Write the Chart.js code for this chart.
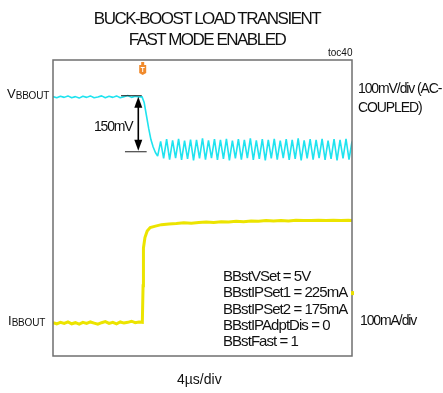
<!DOCTYPE html>
<html>
<head>
<meta charset="utf-8">
<script src="https://cdn.jsdelivr.net/npm/chart.js@4/dist/chart.umd.min.js"></script>
<style>
  body { margin: 0; background: #fff; }
  #wrap { position: relative; width: 443px; height: 393px; overflow: hidden; background: #fff;
          font-family: "Liberation Sans", Arial, sans-serif; color: #111; }
  #wrap canvas { position: absolute; left: 0; top: 0; }
  .t { position: absolute; line-height: 1; white-space: nowrap; }
  .title { left: 0; width: 414px; text-align: center; font-size: 17px; letter-spacing: -1.5px; }
  .lbl { font-size: 14px; letter-spacing: -1.1px; }
  .par { left: 223px; font-size: 15px; letter-spacing: -0.95px; }
  .sig { font-size: 13px; }
  .sig span { font-size: 10px; letter-spacing: -0.2px; position: relative; top: 1px; }
</style>
</head>
<body>
<div id="wrap">
  <canvas id="scope" width="443" height="393"></canvas>
  <div class="t title" style="top:10.4px">BUCK-BOOST LOAD TRANSIENT</div>
  <div class="t title" style="top:30.9px">FAST MODE ENABLED</div>
  <div class="t" style="top:47.7px;left:328px;font-size:10px">toc40</div>
  <div class="t sig" style="top:86.7px;left:7px">V<span>BBOUT</span></div>
  <div class="t sig" style="top:314.2px;left:8px">I<span>BBOUT</span></div>
  <div class="t lbl" style="top:81px;left:358px">100mV/div (AC-</div>
  <div class="t lbl" style="top:100px;left:358px">COUPLED)</div>
  <div class="t lbl" style="top:313.4px;left:360px">100mA/div</div>
  <div class="t lbl" style="top:118.5px;left:94px;letter-spacing:-1.2px">150mV</div>
  <div class="t" style="top:372px;left:177px;font-size:14px">4µs/div</div>
  <div class="t par" style="top:267.5px">BBstVSet = 5V</div>
  <div class="t par" style="top:284px">BBstIPSet1 = 225mA</div>
  <div class="t par" style="top:300.7px">BBstIPSet2 = 175mA</div>
  <div class="t par" style="top:317px">BBstIPAdptDis = 0</div>
  <div class="t par" style="top:333px">BBstFast = 1</div>
</div>
<script>
// time in µs (4µs/div, 10 div), amplitude in screen divisions (8 div)
var cyanTime = [0, 0.5, 1, 1.5, 2, 2.5, 3, 3.5, 4, 4.5, 5, 5.5, 6, 6.5, 7, 7.5, 8, 8.5, 9, 9.5,
  10, 10.5, 11, 11.5, 11.9, 12.2, 12.5, 12.8, 13.1, 13.4, 13.7,
  14.0, 14.4, 14.8, 15.2, 15.6, 16.0, 16.4, 16.8, 17.2, 17.6, 18.0, 18.4, 18.8, 19.2, 19.6,
  20.0, 20.4, 20.8, 21.2, 21.6, 22.0, 22.4, 22.8, 23.2, 23.6, 24.0, 24.4, 24.8, 25.2, 25.6,
  26.0, 26.4, 26.8, 27.2, 27.6, 28.0, 28.4, 28.8, 29.2, 29.6, 30.0, 30.4, 30.8, 31.2, 31.6,
  32.0, 32.4, 32.8, 33.2, 33.6, 34.0, 34.4, 34.8, 35.2, 35.6, 36.0, 36.4, 36.8, 37.2, 37.6,
  38.0, 38.4, 38.8, 39.2, 39.6, 40.0];
var cyanDiv = [7.01, 6.98, 7.02, 6.99, 7.03, 6.98, 7.01, 6.97, 7.02, 6.99, 7.03, 6.98, 7.00, 7.03, 6.98, 7.02, 6.99, 7.03, 6.98, 7.01,
  7.04, 6.99, 7.02, 7.00, 7.01, 6.85, 6.50, 6.15, 5.85, 5.65, 5.50,
  5.40, 5.80, 5.34, 5.86, 5.31, 5.83, 5.35, 5.87, 5.30, 5.82, 5.33, 5.85, 5.29, 5.84, 5.34,
  5.88, 5.31, 5.83, 5.35, 5.86, 5.30, 5.84, 5.33, 5.87, 5.29, 5.82, 5.34, 5.86, 5.31, 5.84,
  5.35, 5.88, 5.30, 5.83, 5.33, 5.86, 5.29, 5.84, 5.34, 5.87, 5.31, 5.82, 5.35, 5.86, 5.30,
  5.84, 5.33, 5.88, 5.29, 5.83, 5.34, 5.86, 5.31, 5.84, 5.35, 5.87, 5.30, 5.82, 5.33, 5.86,
  5.29, 5.84, 5.34, 5.87, 5.31, 5.80];

var yellowTime = [0, 0.5, 1, 1.5, 2, 2.5, 3, 3.5, 4, 4.5, 5, 5.5, 6, 6.5, 7, 7.5, 8, 8.5, 9, 9.5,
  10, 10.5, 11, 11.5, 11.95, 12.05, 12.1, 12.3, 12.6, 13.0, 13.7, 14.5, 15.5, 16.5, 17.5, 18.5, 19.5,
  20.5, 21.5, 22.5, 23.5, 24.5, 25.5, 26.5, 27.5, 28.5, 29.5, 30.5, 31.5, 32.5, 33.5, 34.5,
  35.5, 36.5, 37.5, 38.5, 39.5, 40];
var yellowDiv = [0.90, 0.87, 0.91, 0.88, 0.92, 0.87, 0.90, 0.86, 0.91, 0.88, 0.92, 0.89, 0.86, 0.90, 0.93, 0.88, 0.91, 0.87, 0.92, 0.89,
  0.91, 0.94, 0.90, 0.92, 0.91, 1.90, 2.92, 3.20, 3.38, 3.47, 3.51, 3.55, 3.57, 3.58, 3.60, 3.59, 3.61,
  3.62, 3.61, 3.63, 3.62, 3.64, 3.63, 3.65, 3.64, 3.66, 3.65, 3.66, 3.65, 3.67, 3.66, 3.66,
  3.67, 3.66, 3.67, 3.66, 3.67, 3.66];

// 150mV step marker and trigger position
var stepTime = 11.41, stepTop = 7.035, stepBottom = 5.52;
var trigTime = 12.0;
var yellowGnd = 1.70;

function toPoints(t, v) {
    var out = [];
    for (var i = 0; i < t.length; i++) {
        out.push({x: t[i], y: v[i]});
    }
    return out;
}

var scopeDecor = {
    id: 'scopeDecor',
    afterDatasetsDraw: function(chart) {
        var ctx = chart.ctx, a = chart.chartArea;
        var xs = chart.scales.x, ys = chart.scales.y;
        ctx.save();

        //рамка экрана
        ctx.strokeStyle = '#6f6f6f';
        ctx.lineWidth = 1.5;
        ctx.strokeRect(a.left, a.top, a.right - a.left, a.bottom - a.top);

        //стрелка 150mV
        var x = xs.getPixelForValue(stepTime);
        var y1 = ys.getPixelForValue(stepTop), y2 = ys.getPixelForValue(stepBottom);
        ctx.strokeStyle = '#222';
        ctx.lineWidth = 1;
        ctx.beginPath();
        ctx.moveTo(xs.getPixelForValue(9.1), y1);
        ctx.lineTo(xs.getPixelForValue(11.87), y1);
        ctx.moveTo(xs.getPixelForValue(9.63), y2);
        ctx.lineTo(xs.getPixelForValue(12.53), y2);
        ctx.stroke();
        ctx.lineWidth = 1.6;
        ctx.strokeStyle = '#000';
        ctx.beginPath();
        ctx.moveTo(x, y1 + 6);
        ctx.lineTo(x, y2 - 6);
        ctx.stroke();
        ctx.fillStyle = '#000';
        ctx.beginPath();
        ctx.moveTo(x, y1 + 1);
        ctx.lineTo(x - 4, y1 + 12);
        ctx.lineTo(x + 4, y1 + 12);
        ctx.closePath();
        ctx.fill();
        ctx.beginPath();
        ctx.moveTo(x, y2 - 1);
        ctx.lineTo(x - 4, y2 - 12);
        ctx.lineTo(x + 4, y2 - 12);
        ctx.closePath();
        ctx.fill();

        //значок триггера
        var tx = xs.getPixelForValue(trigTime);
        ctx.fillStyle = '#f08a2c';
        ctx.fillRect(tx - 1.5, a.top + 2, 3, 3);
        ctx.beginPath();
        ctx.moveTo(tx - 3.5, a.top + 5);
        ctx.lineTo(tx + 3.5, a.top + 5);
        ctx.lineTo(tx + 3.5, a.top + 13);
        ctx.lineTo(tx, a.top + 15);
        ctx.lineTo(tx - 3.5, a.top + 13);
        ctx.closePath();
        ctx.fill();
        ctx.strokeStyle = '#fff';
        ctx.lineWidth = 1;
        ctx.beginPath();
        ctx.moveTo(tx - 2, a.top + 7.5);
        ctx.lineTo(tx + 2, a.top + 7.5);
        ctx.moveTo(tx, a.top + 7.5);
        ctx.lineTo(tx, a.top + 12);
        ctx.stroke();

        //метка канала справа
        var gy = ys.getPixelForValue(yellowGnd);
        ctx.fillStyle = '#e8df00';
        ctx.fillRect(a.right - 1, gy - 2, 3, 4);
        ctx.restore();
    }
};

var ctx = document.getElementById('scope');
var scopeChart = new Chart(ctx, {
    type: 'line',
    data: {
        datasets: [
            {
                label: 'VBBOUT',
                data: toPoints(cyanTime, cyanDiv),
                borderColor: '#1fe3ef',
                borderWidth: 1.6,
                pointRadius: 0,
                borderJoinStyle: 'bevel',
                tension: 0
            },
            {
                label: 'IBBOUT',
                data: toPoints(yellowTime, yellowDiv),
                borderColor: '#ece400',
                borderWidth: 3,
                pointRadius: 0,
                tension: 0
            }
        ]
    },
    options: {
        responsive: false,
        devicePixelRatio: 1,
        animation: false,
        layout: {
            padding: { left: 53, right: 91, top: 60, bottom: 37 }
        },
        scales: {
            x: { type: 'linear', min: 0, max: 40, display: false },
            y: { type: 'linear', min: 0, max: 8, display: false }
        },
        plugins: {
            legend: { display: false },
            tooltip: { enabled: false }
        }
    },
    plugins: [scopeDecor]
});
</script>
</body>
</html>
